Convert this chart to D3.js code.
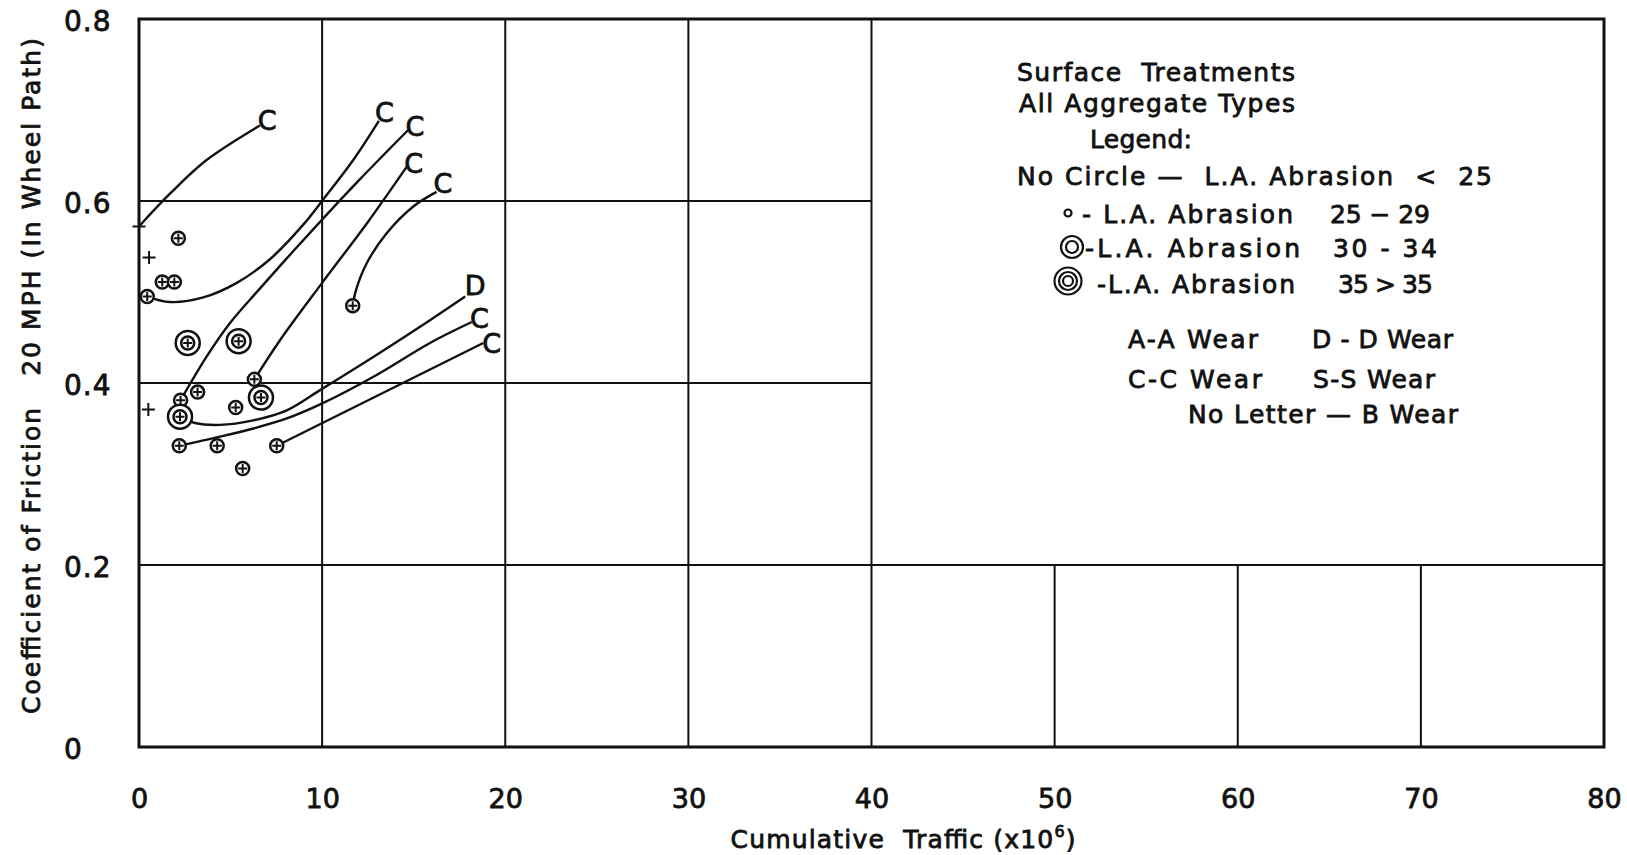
<!DOCTYPE html>
<html>
<head>
<meta charset="utf-8">
<script src="https://cdn.jsdelivr.net/npm/d3@7"></script>
<style>
  body { margin: 0; background: #fff; }
  svg { display: block; font-family: "DejaVu Sans", sans-serif; }
  text { fill: #111; stroke: #111; stroke-width: 0.8px; white-space: pre; }
</style>
</head>
<body>
<svg id="chart" width="1627" height="855"></svg>
<script>
// ---- data ----
const xTicks = [0, 10, 20, 30, 40, 50, 60, 70, 80];
const yTicks = [0, 0.2, 0.4, 0.6, 0.8];

// "+" : L.A. abrasion < 25
const plusPoints = [[0.0, 0.572], [0.55, 0.538], [0.51, 0.371]];
// small circle : L.A. abrasion 25-29
const smallCirclePoints = [
  [2.15, 0.559], [1.27, 0.511], [1.93, 0.511], [0.45, 0.495], [11.67, 0.485],
  [6.3, 0.404], [3.2, 0.390], [2.27, 0.381], [5.28, 0.373], [2.2, 0.331],
  [4.27, 0.331], [7.52, 0.331], [5.66, 0.306]
];
// double circle : L.A. abrasion 30-34
const doubleCirclePoints = [[2.66, 0.444], [5.44, 0.446], [6.66, 0.384], [2.24, 0.363]];

// trend curves, each ending at a wear letter
const curveC1 = [[0.0, 0.572], [1.69, 0.608], [3.69, 0.645], [6.6, 0.683]];
const curveC2 = [[0.45, 0.495], [1.69, 0.489], [3.51, 0.494], [5.34, 0.510], [7.15, 0.536], [8.97, 0.574], [10.07, 0.602], [11.7, 0.645], [13.1, 0.688]];
const curveC3 = [[2.27, 0.381], [3.69, 0.429], [4.97, 0.466], [6.61, 0.504], [8.43, 0.545], [10.25, 0.585], [12.07, 0.624], [14.7, 0.678]];
const curveC4 = [[6.3, 0.404], [7.7, 0.447], [10.0, 0.51], [12.5, 0.577], [14.7, 0.64]];
const curveC5 = [[11.67, 0.485], [11.85, 0.502], [12.42, 0.531], [13.5, 0.564], [14.98, 0.594], [16.25, 0.61]];
const curveD  = [[2.24, 0.363], [3.06, 0.356], [4.42, 0.354], [6.24, 0.359], [8.07, 0.370], [9.95, 0.393], [12.9, 0.430], [15.89, 0.469], [17.81, 0.495]];
const curveC6 = [[2.2, 0.331], [4.42, 0.341], [6.24, 0.350], [8.07, 0.361], [9.95, 0.377], [12.9, 0.408], [15.89, 0.444], [18.17, 0.467]];
const curveC7 = [[7.52, 0.331], [18.8, 0.444]];
const trendCurves = [curveC1, curveC2, curveC3, curveC4, curveC5, curveD, curveC6, curveC7];

const wearLabels = [
  ["C", 7.0, 0.689], ["C", 13.4, 0.698], ["C", 15.07, 0.682], ["C", 15.0, 0.641],
  ["C", 16.6, 0.619], ["D", 18.35, 0.507], ["C", 18.59, 0.471], ["C", 19.26, 0.444]
];

const legendLines = [
  "Surface  Treatments",
  "All Aggregate Types",
  "Legend:",
  "No Circle \u2014  L.A. Abrasion  <  25"
];
const abrasionNames = ["- L.A. Abrasion", "-L.A. Abrasion", "-L.A. Abrasion"];
const abrasionRanges = ["25 \u2212 29", "30 - 34", "35 > 35"];
const wearCodes = ["A-A Wear", "D - D Wear", "C-C Wear", "S-S Wear", "No Letter \u2014 B Wear"];

const xTitle = "Cumulative  Traffic (x10";
const yTitle = "Coefficient of Friction   20 MPH (In Wheel Path)";

// ---- drawing ----
const svg = d3.select("#chart");
const ink = "#111";

const x = d3.scaleLinear().domain([0, 80]).range([139, 1604]);
const y = d3.scaleLinear().domain([0, 0.8]).range([747, 19]);

// grid: upper-right block is left open for the legend
const grid = svg.append("g").attr("stroke", ink).attr("stroke-width", 2);
xTicks.filter(v => v > 0 && v < 80).forEach(v => {
  grid.append("line")
    .attr("x1", x(v)).attr("x2", x(v))
    .attr("y1", y(0)).attr("y2", v <= 40 ? y(0.8) : y(0.2));
});
yTicks.filter(v => v > 0 && v < 0.8).forEach(v => {
  grid.append("line")
    .attr("y1", y(v)).attr("y2", y(v))
    .attr("x1", x(0)).attr("x2", v <= 0.2 ? x(80) : x(40));
});
svg.append("rect")
  .attr("x", x(0)).attr("y", y(0.8))
  .attr("width", x(80) - x(0)).attr("height", y(0) - y(0.8))
  .attr("fill", "none").attr("stroke", ink).attr("stroke-width", 3);

// axes (labels only)
const xAxis = d3.axisBottom(x).tickValues(xTicks).tickSize(0).tickPadding(42).tickFormat(d3.format("d"));
svg.append("g").attr("transform", `translate(0,${y(0)})`).call(xAxis)
  .call(g => g.select(".domain").remove())
  .selectAll("text").attr("font-size", 27).attr("font-family", "DejaVu Sans").attr("fill", ink);

const yAxis = d3.axisLeft(y).tickValues(yTicks).tickSize(0)
  .tickFormat(d => d === 0 ? "0" : d3.format(".1f")(d));
svg.append("g").attr("transform", `translate(${x(0)},0)`).call(yAxis)
  .call(g => g.select(".domain").remove())
  .selectAll("text").attr("text-anchor", "start").attr("x", -75).attr("dy", "0.42em")
  .attr("font-size", 28).attr("font-family", "DejaVu Sans").attr("fill", ink)
  .attr("letter-spacing", 1);

const xt = svg.append("text").attr("x", 903).attr("y", 848).attr("text-anchor", "middle")
  .attr("font-size", 25).attr("textLength", 345).text(xTitle);
xt.append("tspan").attr("dy", -11).attr("font-size", 16).text("6");
xt.append("tspan").attr("dy", 11).text(")");

svg.append("text").attr("transform", "translate(31,376) rotate(-90)")
  .attr("text-anchor", "middle").attr("dy", "0.35em")
  .attr("font-size", 25).attr("textLength", 676).text(yTitle);

// curves
const line = d3.line().x(d => x(d[0])).y(d => y(d[1])).curve(d3.curveCatmullRom.alpha(0.5));
svg.append("g").selectAll("path").data(trendCurves).join("path")
  .attr("d", line).attr("fill", "none").attr("stroke", ink).attr("stroke-width", 2.4);

svg.append("g").selectAll("text").data(wearLabels).join("text")
  .attr("x", d => x(d[1])).attr("y", d => y(d[2])).attr("dy", "0.36em")
  .attr("text-anchor", "middle").attr("font-size", 27).text(d => d[0]);

// markers
function cross(g, r) {
  g.append("path").attr("d", `M${-r},0H${r}M0,${-r}V${r}`).attr("stroke", ink).attr("stroke-width", 2);
}
svg.append("g").selectAll("g").data(plusPoints).join("g")
  .attr("transform", d => `translate(${x(d[0])},${y(d[1])})`)
  .each(function () { cross(d3.select(this), 6.5); });

svg.append("g").selectAll("g").data(smallCirclePoints).join("g")
  .attr("transform", d => `translate(${x(d[0])},${y(d[1])})`)
  .each(function () {
    const g = d3.select(this);
    g.append("circle").attr("r", 6.5).attr("fill", "#fff").attr("stroke", ink).attr("stroke-width", 2.5);
    cross(g, 4.5);
  });

svg.append("g").selectAll("g").data(doubleCirclePoints).join("g")
  .attr("transform", d => `translate(${x(d[0])},${y(d[1])})`)
  .each(function () {
    const g = d3.select(this);
    g.append("circle").attr("r", 12).attr("fill", "#fff").attr("stroke", ink).attr("stroke-width", 2.5);
    g.append("circle").attr("r", 6.5).attr("fill", "#fff").attr("stroke", ink).attr("stroke-width", 2.5);
    cross(g, 4.5);
  });

// legend
const leg = svg.append("g").attr("font-size", 25);
const headPos = [[1017, 81, 278], [1019, 112, 276], [1090, 148, 102], [1017, 185, 475]];
legendLines.forEach((t, i) => {
  leg.append("text").attr("x", headPos[i][0]).attr("y", headPos[i][1])
    .attr("textLength", headPos[i][2]).text(t);
});
const namePos = [[1082, 223, 211], [1085, 257, 215], [1097, 293, 198]];
const rangePos = [[1330, 223, 100], [1333, 257, 104], [1338, 293, 95]];
abrasionNames.forEach((t, i) => {
  leg.append("text").attr("x", namePos[i][0]).attr("y", namePos[i][1]).attr("textLength", namePos[i][2]).text(t);
  leg.append("text").attr("x", rangePos[i][0]).attr("y", rangePos[i][1]).attr("textLength", rangePos[i][2]).text(abrasionRanges[i]);
});
const symbols = [[1068, 213, [3.5]], [1072, 247, [11, 6]], [1068, 281, [13.5, 9, 5]]];
symbols.forEach(s => {
  s[2].forEach(r => leg.append("circle").attr("cx", s[0]).attr("cy", s[1]).attr("r", r)
    .attr("fill", "none").attr("stroke", ink).attr("stroke-width", 2.2));
});
const wearPos = [[1128, 348, 130], [1312, 348, 141], [1128, 388, 134], [1313, 388, 122], [1188, 423, 270]];
wearCodes.forEach((t, i) => {
  leg.append("text").attr("x", wearPos[i][0]).attr("y", wearPos[i][1]).attr("textLength", wearPos[i][2]).text(t);
});
</script>
</body>
</html>
